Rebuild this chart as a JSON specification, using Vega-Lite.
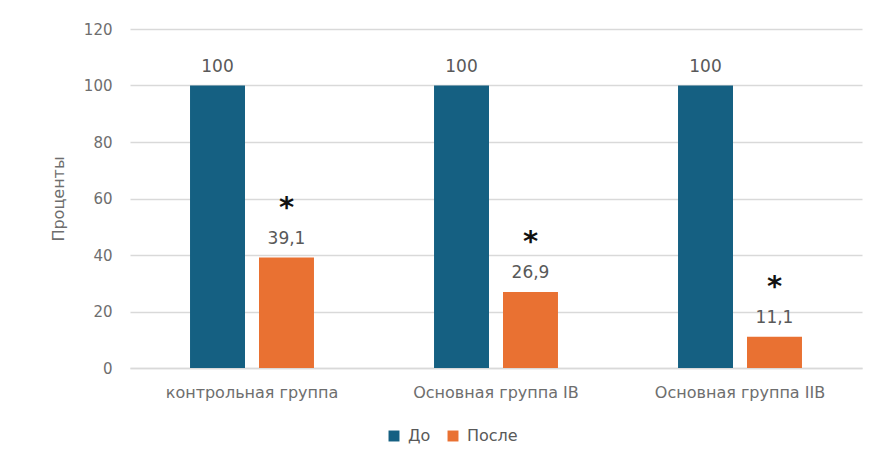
{
  "$schema": "https://vega.github.io/schema/vega-lite/v6.json",
  "width": 732,
  "height": 339,
  "autosize": "none",
  "padding": {"left": 130, "top": 29, "right": 15, "bottom": 93},
  "background": "white",
  "data": {
    "values": [
      {"group": "контрольная группа", "series": "До", "value": 100, "sig": ""},
      {"group": "контрольная группа", "series": "После", "value": 39.1, "sig": "*"},
      {"group": "Основная группа IB", "series": "До", "value": 100, "sig": ""},
      {"group": "Основная группа IB", "series": "После", "value": 26.9, "sig": "*"},
      {"group": "Основная группа IIB", "series": "До", "value": 100, "sig": ""},
      {"group": "Основная группа IIB", "series": "После", "value": 11.1, "sig": "*"}
    ]
  },
  "encoding": {
    "x": {
      "field": "group",
      "type": "nominal",
      "sort": null,
      "scale": {"paddingInner": 0.492, "paddingOuter": 0.246},
      "axis": {
        "title": null,
        "labelAngle": 0,
        "ticks": false,
        "domainColor": "#d9d9d9",
        "domainWidth": 1.5,
        "labelPadding": 16,
        "labelFontSize": 16,
        "labelColor": "#6e6e6e",
        "labelFont": "DejaVu Sans"
      }
    },
    "xOffset": {
      "field": "series",
      "sort": ["До", "После"],
      "scale": {"paddingInner": 0.203, "paddingOuter": 0}
    },
    "y": {
      "field": "value",
      "type": "quantitative",
      "scale": {"domain": [0, 120], "nice": false},
      "axis": {
        "title": "Проценты",
        "values": [0, 20, 40, 60, 80, 100, 120],
        "domain": false,
        "ticks": false,
        "gridColor": "#d9d9d9",
        "gridWidth": 1.5,
        "labelPadding": 18,
        "labelFontSize": 15,
        "labelColor": "#6e6e6e",
        "labelFont": "DejaVu Sans",
        "titleFont": "DejaVu Sans",
        "titleFontSize": 16,
        "titleFontWeight": "normal",
        "titleColor": "#6e6e6e",
        "titlePadding": 17
      }
    }
  },
  "layer": [
    {
      "mark": {"type": "bar"},
      "encoding": {
        "color": {
          "field": "series",
          "type": "nominal",
          "sort": ["До", "После"],
          "scale": {"domain": ["До", "После"], "range": ["#156082", "#E97132"]},
          "legend": {
            "title": null,
            "orient": "none",
            "direction": "horizontal",
            "legendX": 256,
            "legendY": 399,
            "symbolType": "square",
            "symbolSize": 120,
            "symbolStrokeWidth": 0,
            "labelFontSize": 16,
            "labelColor": "#595959",
            "labelFont": "DejaVu Sans",
            "columnPadding": 14,
            "labelOffset": 6
          }
        }
      }
    },
    {
      "mark": {
        "type": "text",
        "dy": -14,
        "baseline": "alphabetic",
        "fontSize": 17,
        "font": "DejaVu Sans",
        "color": "#595959"
      },
      "encoding": {
        "text": {"field": "value", "type": "quantitative", "format": ".1~f"}
      }
    },
    {
      "mark": {
        "type": "text",
        "dy": -50,
        "baseline": "middle",
        "fontSize": 29,
        "fontWeight": "bold",
        "font": "DejaVu Sans",
        "color": "#111111"
      },
      "encoding": {
        "text": {"field": "sig"}
      }
    }
  ],
  "config": {
    "view": {"stroke": null},
    "locale": {
      "number": {
        "decimal": ",",
        "thousands": " ",
        "grouping": [3],
        "currency": ["", " ₽"]
      }
    }
  }
}
